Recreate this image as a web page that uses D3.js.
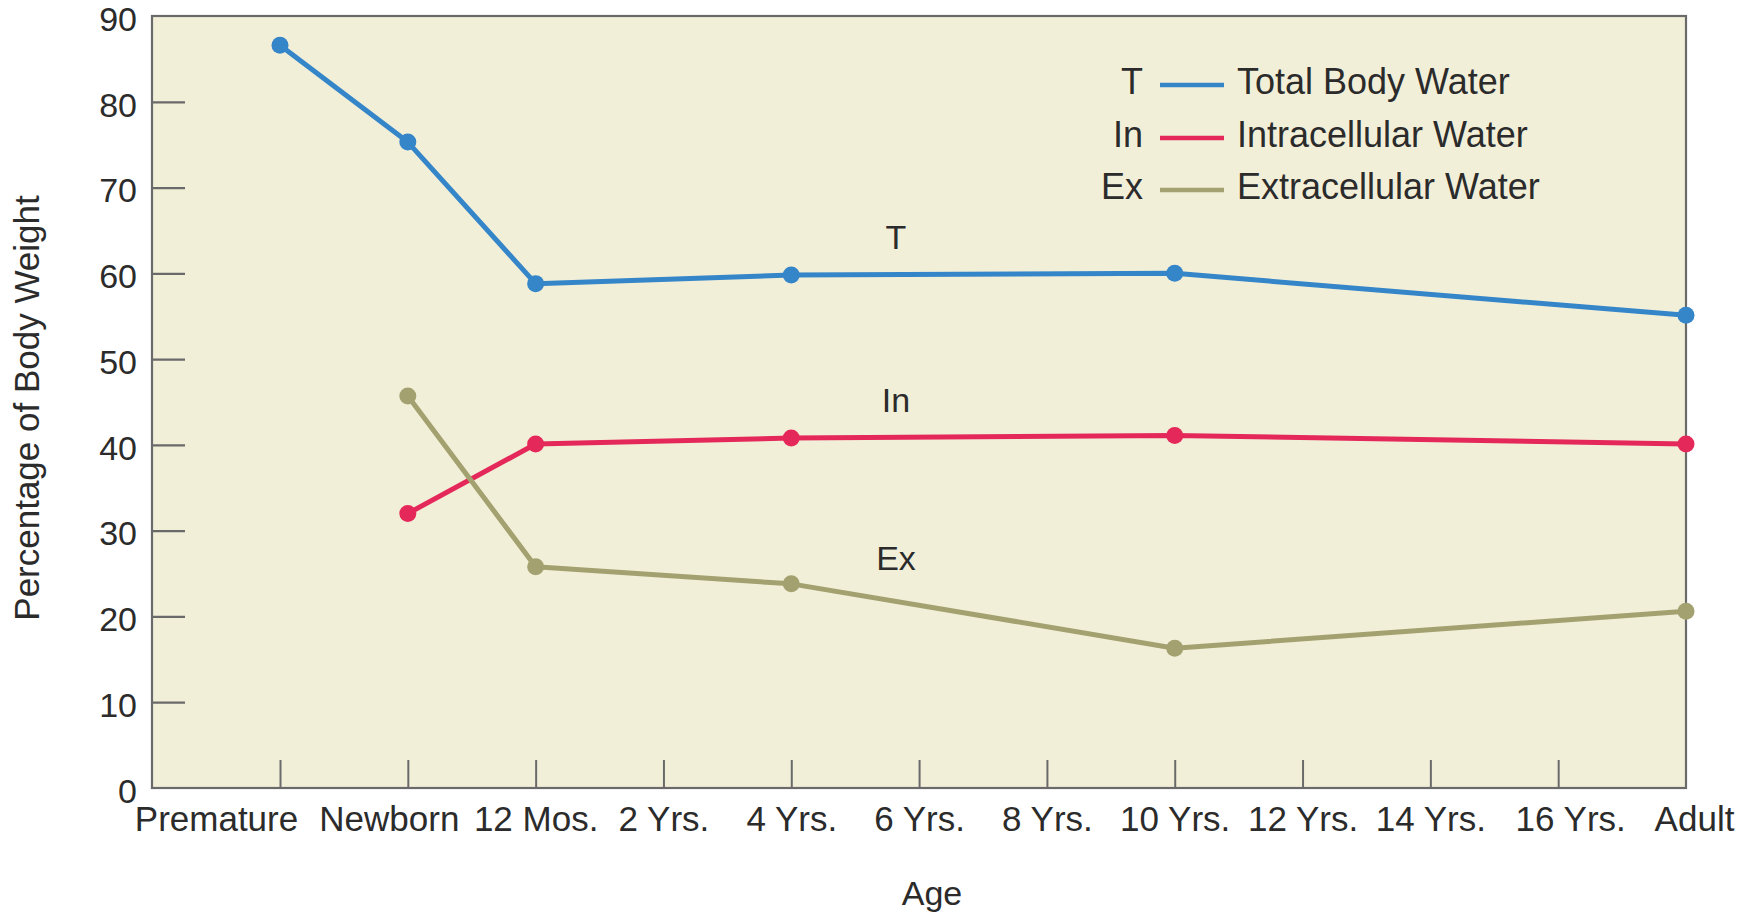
<!DOCTYPE html>
<html>
<head>
<meta charset="utf-8">
<script src="https://cdn.jsdelivr.net/npm/d3@7"></script>
<style>
  html, body { margin: 0; padding: 0; background: #ffffff; }
  svg { display: block; font-family: "Liberation Sans", Arial, Helvetica, sans-serif; }
  text { fill: #2b2b2b; }
</style>
</head>
<body>
<svg id="chart" width="1754" height="913"></svg>
<script>
// Age categories along the x axis
const ages = ["Premature", "Newborn", "12 Mos.", "2 Yrs.", "4 Yrs.", "6 Yrs.", "8 Yrs.",
              "10 Yrs.", "12 Yrs.", "14 Yrs.", "16 Yrs.", "Adult"];

// Ages at which body water was measured
const measuredAges = ["Premature", "Newborn", "12 Mos.", "4 Yrs.", "10 Yrs.", "Adult"];

// Percentage of body weight (null = not measured)
const totalWater         = [86.6, 75.3, 58.8, 59.8, 60.0, 55.1];
const intracellularWater = [null, 32.0, 40.1, 40.8, 41.1, 40.1];
const extracellularWater = [null, 45.7, 25.8, 23.8, 16.3, 20.6];

const yTicks = [0, 10, 20, 30, 40, 50, 60, 70, 80, 90];

const seriesKeys   = ["T", "In", "Ex"];
const seriesNames  = ["Total Body Water", "Intracellular Water", "Extracellular Water"];
const seriesValues = [totalWater, intracellularWater, extracellularWater];
const seriesColors = ["#3585c9", "#e5285a", "#a4a170"];

const svg = d3.select("#chart");

const plot = { left: 152, right: 1686, top: 16, bottom: 788 };

const x = d3.scalePoint().domain(ages).range([280, plot.right]);
const y = d3.scaleLinear().domain([0, 90]).range([plot.bottom, plot.top]);

// plot background
svg.append("rect")
  .attr("x", plot.left).attr("y", plot.top)
  .attr("width", plot.right - plot.left).attr("height", plot.bottom - plot.top)
  .attr("fill", "#f2efd9");

const axisColor = "#6a6a6a";

// y axis with inward ticks
const yAxis = svg.append("g")
  .attr("transform", `translate(${plot.left},0)`)
  .call(d3.axisLeft(y).tickValues(yTicks).tickSizeInner(-33).tickSizeOuter(0).tickPadding(15));
yAxis.select(".domain").remove();
yAxis.selectAll(".tick line")
  .attr("stroke", axisColor).attr("stroke-width", 2.2)
  .attr("display", d => (d === 0 || d === 90) ? "none" : null);
yAxis.selectAll(".tick text")
  .attr("font-size", 34).attr("dy", "0.42em").attr("fill", "#2b2b2b")
  .attr("font-family", "Liberation Sans, Arial, sans-serif");

// x axis with inward ticks
const labelShift = { "Premature": -64, "Newborn": -19, "16 Yrs.": 12, "Adult": 8 };
const xAxis = svg.append("g")
  .attr("transform", `translate(0,${plot.bottom})`)
  .call(d3.axisBottom(x).tickSizeInner(-28).tickSizeOuter(0));
xAxis.select(".domain").remove();
xAxis.selectAll(".tick line")
  .attr("stroke", axisColor).attr("stroke-width", 2)
  .attr("display", d => d === "Adult" ? "none" : null);
xAxis.selectAll(".tick text")
  .attr("y", 43).attr("dy", 0)
  .attr("x", d => labelShift[d] || 0)
  .attr("font-size", 35).attr("fill", "#2b2b2b")
  .attr("font-family", "Liberation Sans, Arial, sans-serif");

// plot frame
svg.append("rect")
  .attr("x", plot.left).attr("y", plot.top)
  .attr("width", plot.right - plot.left).attr("height", plot.bottom - plot.top)
  .attr("fill", "none").attr("stroke", axisColor).attr("stroke-width", 2.2);

// axis titles
svg.append("text")
  .attr("transform", `translate(39,${(plot.top + plot.bottom) / 2 + 6}) rotate(-90)`)
  .attr("text-anchor", "middle").attr("font-size", 35)
  .text("Percentage of Body Weight");

svg.append("text")
  .attr("x", 932).attr("y", 905)
  .attr("text-anchor", "middle").attr("font-size", 34)
  .text("Age");

// series lines and markers
const line = d3.line()
  .defined(d => d.v !== null)
  .x(d => x(d.age))
  .y(d => y(d.v));

seriesValues.forEach((vals, i) => {
  const pts = measuredAges.map((age, j) => ({ age, v: vals[j] }));
  svg.append("path")
    .datum(pts)
    .attr("fill", "none")
    .attr("stroke", seriesColors[i])
    .attr("stroke-width", 5)
    .attr("stroke-linejoin", "round")
    .attr("d", line);
  svg.append("g").selectAll("circle")
    .data(pts.filter(d => d.v !== null))
    .join("circle")
    .attr("cx", d => x(d.age))
    .attr("cy", d => y(d.v))
    .attr("r", 8.5)
    .attr("fill", seriesColors[i]);
});

// series tags inside the plot
const tagY = [249, 412, 570];
seriesKeys.forEach((k, i) => {
  svg.append("text")
    .attr("x", 896).attr("y", tagY[i])
    .attr("text-anchor", "middle").attr("font-size", 34)
    .text(k);
});

// legend
const legendRows = [94, 147, 199];
seriesKeys.forEach((k, i) => {
  const by = legendRows[i];
  svg.append("text")
    .attr("x", 1143).attr("y", by)
    .attr("text-anchor", "end").attr("font-size", 36)
    .text(k);
  svg.append("line")
    .attr("x1", 1160).attr("x2", 1224)
    .attr("y1", by - 9).attr("y2", by - 9)
    .attr("stroke", seriesColors[i]).attr("stroke-width", 4.5);
  svg.append("text")
    .attr("x", 1237).attr("y", by)
    .attr("font-size", 36)
    .text(seriesNames[i]);
});
</script>
</body>
</html>
